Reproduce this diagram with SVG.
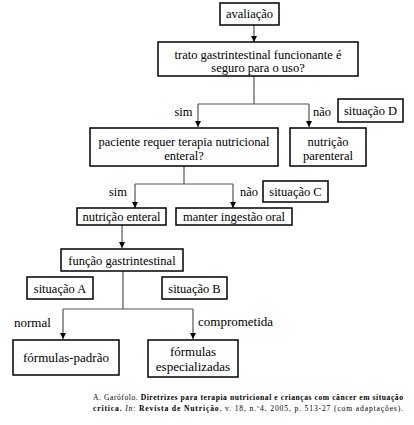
<svg xmlns="http://www.w3.org/2000/svg" width="414" height="425" viewBox="0 0 414 425">
<style>
.box{fill:#fff;stroke:#000;stroke-width:1.5}
.t{font-size:12.5px;fill:#000}
.tb{font-size:13px}
.c{fill:none;stroke:#555;stroke-width:1.2}
.cit{font-size:7.6px;fill:#000}
.b{font-weight:bold}
</style>
<rect width="414" height="425" fill="#fff"/>
<g font-family="'Liberation Serif', 'DejaVu Serif', serif">
<g id="connectors">
<path class="c" d="M254,25 V42"/>
<path class="c" d="M254,76 V104"/>
<path class="c" d="M198,104 H309"/>
<path class="c" d="M198,104 V127"/>
<path class="c" d="M309,104 V127"/>
<path class="c" d="M184,166 V184 M135,184 H233"/>
<path class="c" d="M135,184 V208"/>
<path class="c" d="M233,184 V208"/>
<path class="c" d="M122,224 V248"/>
<path class="c" d="M123,271 V309 M63,309 H193"/>
<path class="c" d="M63,309 V339"/>
<path class="c" d="M193,309 V339"/>
<g fill="#000">
<path d="M251,36 H257 L254,42 Z"/>
<path d="M195,121 H201 L198,127 Z"/>
<path d="M306,121 H312 L309,127 Z"/>
<path d="M132,202 H138 L135,208 Z"/>
<path d="M230,202 H236 L233,208 Z"/>
<path d="M119,242 H125 L122,248 Z"/>
<path d="M60,333 H66 L63,339 Z"/>
<path d="M190,333 H196 L193,339 Z"/>
</g>
</g>
<g id="avaliacao"><rect class="box" x="220" y="3" width="59" height="22"/><text class="t" x="249.5" y="18" text-anchor="middle">avaliação</text></g>
<g id="trato"><rect class="box" x="158" y="42" width="200" height="34"/><text class="t" x="258" y="59" text-anchor="middle">trato gastrintestinal funcionante é</text><text class="t" x="258" y="72" text-anchor="middle">seguro para o uso?</text></g>
<g id="sim1"><text class="t" x="183.5" y="116" text-anchor="middle">sim</text></g>
<g id="nao1"><text class="t" x="322" y="116" text-anchor="middle">não</text></g>
<g id="situacaoD"><rect class="box" x="338" y="99" width="65" height="23"/><text class="t" x="370.5" y="115" text-anchor="middle">situação D</text></g>
<g id="paciente"><rect class="box" x="90" y="128" width="188" height="38"/><text class="t" x="184" y="146" text-anchor="middle">paciente requer terapia nutricional</text><text class="t" x="184" y="160" text-anchor="middle">enteral?</text></g>
<g id="parenteral"><rect class="box" x="290" y="128" width="76" height="38"/><text class="t" x="328" y="146" text-anchor="middle">nutrição</text><text class="t" x="328" y="160" text-anchor="middle">parenteral</text></g>
<g id="sim2"><text class="t" x="118" y="196" text-anchor="middle">sim</text></g>
<g id="nao2"><text class="t" x="249" y="196" text-anchor="middle">não</text></g>
<g id="situacaoC"><rect class="box" x="263" y="181" width="65" height="21"/><text class="t" x="295.5" y="196" text-anchor="middle">situação C</text></g>
<g id="enteral"><rect class="box" x="77" y="208" width="89" height="17"/><text class="t" x="121.5" y="221" text-anchor="middle">nutrição enteral</text></g>
<g id="oral"><rect class="box" x="176" y="208" width="116" height="17"/><text class="t" x="234" y="221" text-anchor="middle">manter ingestão oral</text></g>
<g id="funcao"><rect class="box" x="61" y="249" width="122" height="22"/><text class="t" x="122" y="264.5" text-anchor="middle">função gastrintestinal</text></g>
<g id="situacaoA"><rect class="box" x="27" y="277" width="66" height="22"/><text class="t" x="60" y="292.5" text-anchor="middle">situação A</text></g>
<g id="situacaoB"><rect class="box" x="162" y="277" width="65" height="22"/><text class="t" x="194.5" y="292.5" text-anchor="middle">situação B</text></g>
<g id="normal"><text class="t tb" x="14" y="327">normal</text></g>
<g id="comprometida"><text class="t tb" x="198" y="326">comprometida</text></g>
<g id="padrao"><rect class="box" x="13" y="340" width="106" height="35"/><text class="t tb" x="66" y="362" text-anchor="middle">fórmulas-padrão</text></g>
<g id="especializadas"><rect class="box" x="148" y="340" width="90" height="37"/><text class="t tb" x="193" y="356" text-anchor="middle">fórmulas</text><text class="t tb" x="193" y="370.5" text-anchor="middle">especializadas</text></g>
<g id="citation">
<text class="cit" x="93" y="400" textLength="310" lengthAdjust="spacing">A. Garófolo. <tspan class="b">Diretrizes para terapia nutricional e crianças com câncer em situação</tspan></text>
<text class="cit" x="93" y="411" textLength="310" lengthAdjust="spacing"><tspan class="b">crítica.</tspan> <tspan font-style="italic">In</tspan>: <tspan class="b">Revista de Nutrição</tspan>, v. 18, n.º4, 2005, p. 513-27 (com adaptações).</text>
</g>
</g>
</svg>
